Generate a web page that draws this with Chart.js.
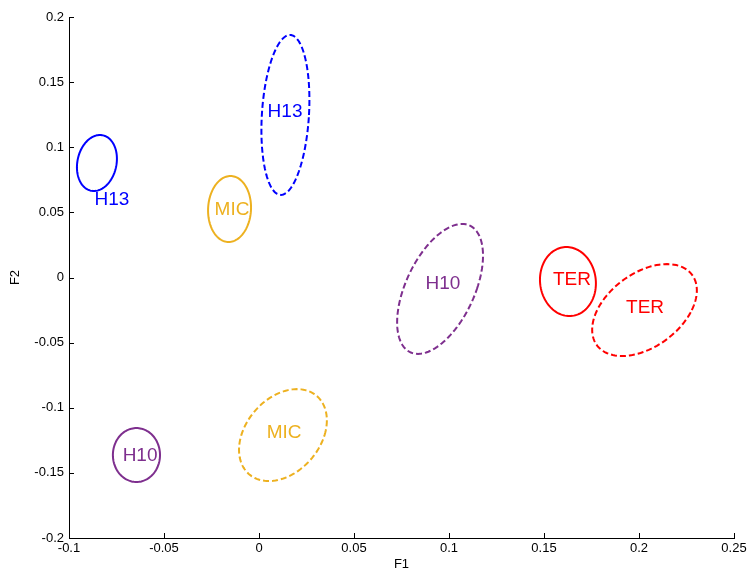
<!DOCTYPE html>
<html>
<head>
<meta charset="utf-8">
<script src="https://cdn.jsdelivr.net/npm/chart.js@4"></script>
<style>
  body { margin: 0; background: #fff; }
</style>
</head>
<body>
<canvas id="graph" width="747" height="574"></canvas>
<script>
// Groups (one solid and one dashed ellipse each)
var groups = ['H13', 'H13', 'MIC', 'MIC', 'H10', 'H10', 'TER', 'TER'];
var dashed = [false, true, false, true, true, false, false, true];
// Ellipse centres (F1, F2)
var centerX = [-0.0853, 0.0139, -0.0155, 0.0126, 0.0953, -0.0645, 0.1626, 0.2029];
var centerY = [0.0879, 0.1248, 0.0526, -0.1210, -0.0088, -0.1363, -0.0031, -0.0250];
// Ellipse half sizes in F1 / F2 units, and F1 shift of the top point (tilt)
var radiusX = [0.0104, 0.0124, 0.0113, 0.0219, 0.0194, 0.0124, 0.0147, 0.0249];
var radiusY = [0.0215, 0.0614, 0.0253, 0.0353, 0.0499, 0.0207, 0.0265, 0.0353];
var skewX = [0.0016, 0.0024, 0.0005, 0.0074, 0.0116, 0.0, -0.0008, 0.0118];
// Where each group name is written
var labelX = [-0.0774, 0.0137, -0.0142, 0.0132, 0.0968, -0.0626, 0.1647, 0.2032];
var labelY = [0.0595, 0.1271, 0.0518, -0.1194, -0.0050, -0.1371, -0.0019, -0.0234];
// Axis ticks
var xTicks = [-0.1, -0.05, 0, 0.05, 0.1, 0.15, 0.2, 0.25];
var yTicks = [-0.2, -0.15, -0.1, -0.05, 0, 0.05, 0.1, 0.15, 0.2];

var colours = { H13: '#0000ff', MIC: '#edb120', H10: '#7e2f8e', TER: '#ff0000' };

function tickText(v) {
    return String(Math.round(v * 100) / 100);
}

// Ellipses and their names
var ellipsePlugin = {
    id: 'ellipses',
    afterDatasetsDraw: function (chart) {
        var ctx = chart.ctx;
        var xs = chart.scales.x, ys = chart.scales.y;
        groups.forEach(function (g, i) {
            var col = colours[g];
            ctx.save();
            ctx.strokeStyle = col;
            ctx.lineWidth = 2;
            ctx.setLineDash(dashed[i] ? [6, 3] : []);
            ctx.beginPath();
            var n = 120;
            for (var k = 0; k <= n; k++) {
                var t = 2 * Math.PI * k / n;
                var x = centerX[i] + radiusX[i] * Math.cos(t) + skewX[i] * Math.sin(t);
                var y = centerY[i] + radiusY[i] * Math.sin(t);
                var px = xs.getPixelForValue(x), py = ys.getPixelForValue(y);
                if (k === 0) ctx.moveTo(px, py); else ctx.lineTo(px, py);
            }
            ctx.closePath();
            ctx.stroke();
            ctx.setLineDash([]);
            ctx.fillStyle = col;
            ctx.font = '19px "Liberation Sans", Arial, sans-serif';
            ctx.textAlign = 'center';
            ctx.textBaseline = 'middle';
            ctx.fillText(g, xs.getPixelForValue(labelX[i]), ys.getPixelForValue(labelY[i]));
            ctx.restore();
        });
    },
    // inward tick marks like the original
    afterDraw: function (chart) {
        var ctx = chart.ctx;
        var a = chart.chartArea;
        var xs = chart.scales.x, ys = chart.scales.y;
        ctx.save();
        ctx.strokeStyle = '#000';
        ctx.lineWidth = 1;
        ctx.beginPath();
        xTicks.forEach(function (v) {
            var px = Math.round(xs.getPixelForValue(v)) + 0.5;
            ctx.moveTo(px, a.bottom);
            ctx.lineTo(px, a.bottom - 5);
        });
        yTicks.forEach(function (v) {
            var py = Math.round(ys.getPixelForValue(v)) + 0.5;
            ctx.moveTo(a.left, py);
            ctx.lineTo(a.left + 5, py);
        });
        ctx.stroke();
        ctx.restore();
    }
};

var datasets = groups.map(function (g, i) {
    return {
        label: g,
        data: [{ x: centerX[i], y: centerY[i] }],
        pointRadius: 0,
        borderColor: colours[g],
        backgroundColor: colours[g]
    };
});

var tickFont = { family: '"Liberation Sans", Arial, sans-serif', size: 13 };

var config = {
    type: 'scatter',
    data: { datasets: datasets },
    plugins: [ellipsePlugin],
    options: {
        responsive: false,
        animation: false,
        layout: { padding: { left: 0, right: 13, top: 17, bottom: 0 } },
        plugins: { legend: { display: false }, tooltip: { enabled: false } },
        scales: {
            x: {
                type: 'linear',
                min: -0.1,
                max: 0.25,
                afterBuildTicks: function (scale) {
                    scale.ticks = xTicks.map(function (v) { return { value: v }; });
                },
                afterFit: function (scale) {
                    scale.height = 36;
                    scale.paddingLeft = 0;
                    scale.paddingRight = 0;
                },
                ticks: {
                    color: '#000',
                    font: tickFont,
                    padding: 3,
                    maxRotation: 0,
                    autoSkip: false,
                    callback: function (v) { return tickText(v); }
                },
                grid: { display: false, drawTicks: false },
                border: { color: '#000', width: 1 },
                title: { display: true, text: 'F1', color: '#000', font: tickFont, padding: { top: 0, bottom: 2 } }
            },
            y: {
                type: 'linear',
                min: -0.2,
                max: 0.2,
                afterBuildTicks: function (scale) {
                    scale.ticks = yTicks.map(function (v) { return { value: v }; });
                },
                afterFit: function (scale) {
                    scale.width = 69;
                    scale.paddingTop = 0;
                    scale.paddingBottom = 0;
                },
                ticks: {
                    color: '#000',
                    font: tickFont,
                    padding: 5,
                    autoSkip: false,
                    callback: function (v) { return tickText(v); }
                },
                grid: { display: false, drawTicks: false },
                border: { color: '#000', width: 1 },
                title: { display: true, text: 'F2', color: '#000', font: tickFont, padding: { top: 8, bottom: 0 } }
            }
        }
    }
};

new Chart(document.getElementById('graph'), config);
</script>
</body>
</html>
